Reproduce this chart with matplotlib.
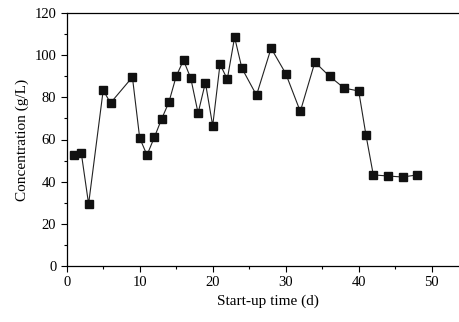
import matplotlib
matplotlib.use("Agg")
import matplotlib.pyplot as plt
from matplotlib.ticker import MultipleLocator

# start-up day and concentration (g/L)
days = [1, 2, 3, 5, 6, 9, 10, 11, 12, 13, 14, 15, 16, 17, 18, 19, 20, 21, 22, 23,
        24, 26, 28, 30, 32, 34, 36, 38, 40, 41, 42, 44, 46, 48]
conc = [52.6, 53.5, 29.4, 83.4, 77.3, 89.6, 60.7, 52.6, 61.0, 69.7, 77.7, 90.0,
        97.6, 89.0, 72.5, 87.0, 66.5, 95.7, 88.6, 108.5, 93.8, 81.0, 103.3, 91.3,
        73.3, 96.7, 90.0, 84.4, 83.0, 62.0, 43.2, 42.7, 42.2, 43.2]

plt.rcParams["font.family"] = ["Liberation Serif", "DejaVu Serif"]

fig = plt.figure(figsize=(4.6, 3.22), dpi=100)
ax = fig.add_axes([66.7 / 460, 56 / 322, 401.5 / 460, 253 / 322])

ax.plot(days, conc, color="#222222", lw=0.8, marker="s", ms=5.3,
        mfc="#111111", mec="#111111")

ax.set_xlim(0, 55)
ax.set_ylim(0, 120)
ax.xaxis.set_major_locator(MultipleLocator(10))
ax.xaxis.set_minor_locator(MultipleLocator(5))
ax.yaxis.set_major_locator(MultipleLocator(20))
ax.yaxis.set_minor_locator(MultipleLocator(10))
ax.tick_params(which="both", direction="out", labelsize=10.5, width=0.8, top=False)
ax.tick_params(which="major", length=4)
ax.tick_params(which="minor", length=2.5)
for s in ax.spines.values():
    s.set_linewidth(0.9)
ax.spines["right"].set_visible(False)

ax.set_xlabel("Start-up time (d)", fontsize=11)
ax.set_ylabel("Concentration (g/L)", fontsize=11)

fig.savefig("out.png", dpi=100)
